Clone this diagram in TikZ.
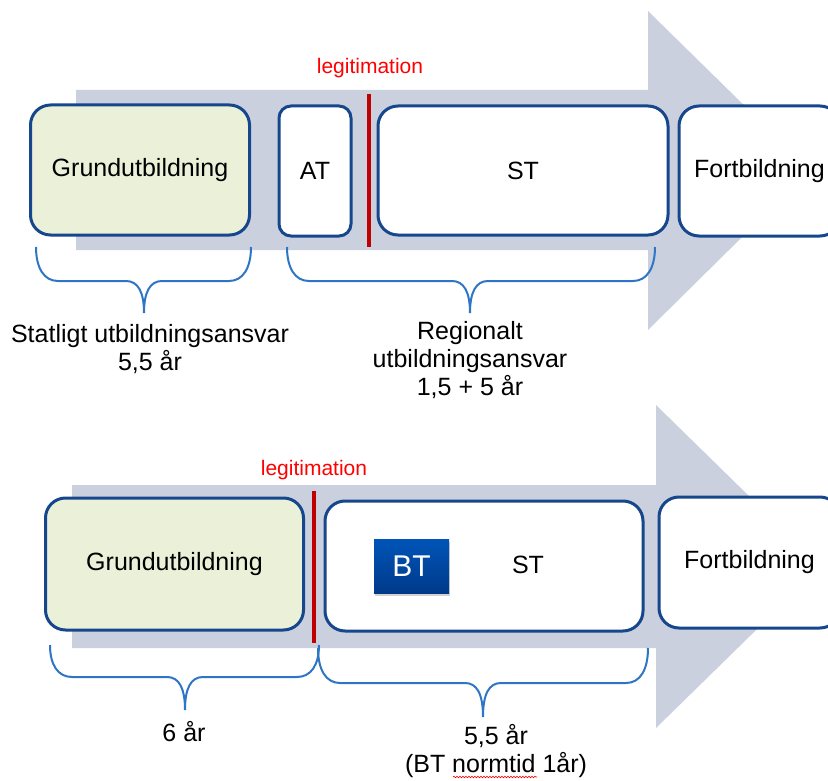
\documentclass[tikz,border=0pt]{standalone}
\usepackage{fontspec}
\setmainfont{Liberation Sans}
\usetikzlibrary{shadows,decorations.pathmorphing}
\definecolor{arrowgray}{RGB}{203,208,223}
\definecolor{boxblue}{RGB}{22,70,140}
\definecolor{greenfill}{RGB}{235,241,217}
\definecolor{legred}{RGB}{192,0,0}
\definecolor{bracecol}{RGB}{46,117,197}
\definecolor{btTop}{RGB}{0,84,184}
\definecolor{btBot}{RGB}{0,58,138}
\begin{document}
\begin{tikzpicture}[x=1pt,y=-1pt,
  stage/.style={draw=boxblue, line width=3pt, rounded corners=20pt, fill=white,
    font=\fontsize{25}{28}\selectfont, inner sep=0pt, align=center},
  grund/.style={stage, fill=greenfill},
  lbl/.style={font=\fontsize{25}{28}\selectfont, inner sep=0pt, align=center},
  legtext/.style={font=\fontsize{21}{24}\selectfont, text=red, inner sep=0pt},
  legline/.style={draw=legred, line width=4pt},
  bracestyle/.style={draw=bracecol, line width=2pt},
  btbox/.style={top color=btTop, bottom color=btBot, text=white, inner sep=0pt,
    minimum width=75pt, minimum height=54pt, font=\fontsize{30}{32}\selectfont,
    drop shadow={opacity=0.35, shadow xshift=1pt, shadow yshift=-3pt}}]
\useasboundingbox (0,0) rectangle (828,781);
\clip (0,0) rectangle (828,781);

% ---------- top panel ----------
\fill[arrowgray] (76,90) -- (648,90) -- (648,11) -- (810,170) -- (648,330) -- (648,250) -- (76,250) -- cycle;

\node[grund, minimum width=219pt, minimum height=130pt] (grund1) at (140,170) {Grundutbildning};
\node[stage, rounded corners=12pt, minimum width=72pt, minimum height=130pt] (at1) at (315,171) {AT};
\node[stage, minimum width=290pt, minimum height=129pt] (st1) at (523,170.5) {ST};
\node[stage, minimum width=161pt, minimum height=130pt] (fort1) at (759.5,171) {Fortbildning};

\coordinate (leg1a) at (369,94);
\coordinate (leg1b) at (369,247);
\draw[legline] (leg1a) -- (leg1b);
\node[legtext] (legtxt1) at (370,68) {legitimation};

\draw[bracestyle] (36,247) .. controls (36,268) and (44,281) .. (58,281) -- (126,281)
  .. controls (138,281) and (144,292) .. (144,313)
  .. controls (144,292) and (150,281) .. (162,281) -- (229,281)
  .. controls (243,281) and (251,268) .. (251,247);
\draw[bracestyle] (287,247) .. controls (287,268) and (295,281) .. (309,281) -- (452,281)
  .. controls (464,281) and (470,292) .. (470,313)
  .. controls (470,292) and (476,281) .. (488,281) -- (633,281)
  .. controls (647,281) and (655,268) .. (655,247);

\node[lbl] (stat1) at (150,349) {Statligt utbildningsansvar\\5,5 år};
\node[lbl] (reg1) at (470,360) {Regionalt\\utbildningsansvar\\1,5 + 5 år};

% ---------- bottom panel ----------
\fill[arrowgray] (72,485) -- (656,485) -- (656,405) -- (821,566.5) -- (656,728) -- (656,648) -- (72,648) -- cycle;

\node[grund, minimum width=258pt, minimum height=132pt] (grund2) at (174.5,564) {Grundutbildning};
\node[stage, minimum width=318pt, minimum height=130pt] (st2) at (484,566) {};
\node[lbl] (st2lbl) at (528,565) {ST};
\node[btbox] (bt) at (411.5,566) {BT};
\node[stage, minimum width=181pt, minimum height=131pt] (fort2) at (749.5,562.5) {Fortbildning};

\coordinate (leg2a) at (314,491);
\coordinate (leg2b) at (314,643);
\draw[legline] (leg2a) -- (leg2b);
\node[legtext] (legtxt2) at (314,470) {legitimation};

\draw[bracestyle] (50,645) .. controls (50,665) and (58,677) .. (72,677) -- (167,677)
  .. controls (179,677) and (185,688) .. (185,710)
  .. controls (185,688) and (191,677) .. (203,677) -- (297,677)
  .. controls (311,677) and (319,665) .. (319,645);
\draw[bracestyle] (318,648) .. controls (318,670) and (326,683) .. (340,683) -- (465,683)
  .. controls (477,683) and (483,694) .. (483,717)
  .. controls (483,694) and (489,683) .. (501,683) -- (626,683)
  .. controls (640,683) and (648,670) .. (648,648);

\node[lbl] (six) at (184,732) {6 år};
\node[lbl] (fivefive) at (496,751) {5,5 år\\(BT normtid 1år)};
\draw[red, line width=0.6pt, decorate, decoration={snake, amplitude=0.8pt, segment length=3pt}] (453,777) -- (537,777);
\end{tikzpicture}
\end{document}
